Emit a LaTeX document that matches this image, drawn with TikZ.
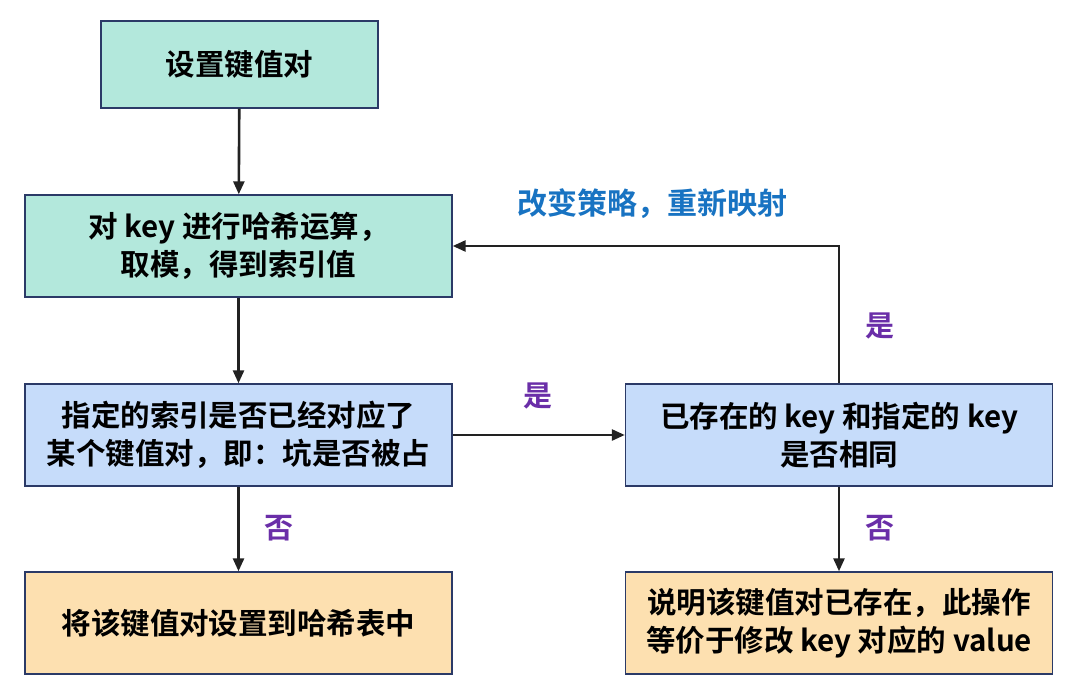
\documentclass[tikz,border=0pt]{standalone}
\usepackage{fontspec}
\setmainfont{Noto Sans CJK SC}[BoldFont={* Bold}]
\usetikzlibrary{arrows.meta}
\definecolor{teal}{HTML}{B3E8DC}
\definecolor{lblue}{HTML}{C6DCFA}
\definecolor{peach}{HTML}{FDE0B0}
\definecolor{bord}{HTML}{2B3A67}
\definecolor{lbl}{HTML}{6A2EA8}
\definecolor{blu}{HTML}{1873C2}
\definecolor{ln}{HTML}{222222}
\begin{document}
\begin{tikzpicture}[x=1pt,y=-1pt,
  box/.style={draw=bord,line width=1.4pt,align=center,inner sep=0pt,
    font=\bfseries\fontsize{29.5}{38.5}\selectfont,text=black},
  big/.style={box,minimum width=427pt,minimum height=102pt},
  conn/.style={draw=ln,line width=2.6pt,-{Triangle[length=13pt,width=11pt]}},
  yn/.style={text=lbl,font=\bfseries\fontsize{29}{32}\selectfont,inner sep=0pt}]
\useasboundingbox[fill=white] (0,0) rectangle (1080,696);
\node[box,fill=teal,minimum width=277pt,minimum height=87pt] (b1) at (239.5,64.5) {设置键值对};
\node[big,fill=teal] (b2) at (238.5,246) {对 key 进行哈希运算，\\取模，得到索引值};
\node[big,fill=lblue] (b3) at (238.5,435) {指定的索引是否已经对应了\\某个键值对，即：坑是否被占};
\node[big,fill=lblue] (b4) at (839,435) {已存在的 key 和指定的 key\\是否相同};
\node[big,fill=peach] (b5) at (238.5,623) {将该键值对设置到哈希表中};
\node[big,fill=peach] (b6) at (839,623) {说明该键值对已存在，此操作\\等价于修改 key 对应的 value};
\draw[conn] (b1) -- (b2);
\draw[conn] (b2) -- (b3);
\draw[conn] (b3) -- (b4);
\draw[conn] (b3) -- (b5);
\draw[conn] (b4) -- (b6);
\draw[conn] (b4.north) |- (b2.east);
\node[yn] (y1) at (538,396) {是};
\node[yn] (n1) at (279,528) {否};
\node[yn] (n2) at (880,528) {否};
\node[yn] (y2) at (880,326) {是};
\node[text=blu,font=\bfseries\fontsize{30}{32}\selectfont,inner sep=0pt] (t) at (652,204) {改变策略，重新映射};
\end{tikzpicture}
\end{document}
